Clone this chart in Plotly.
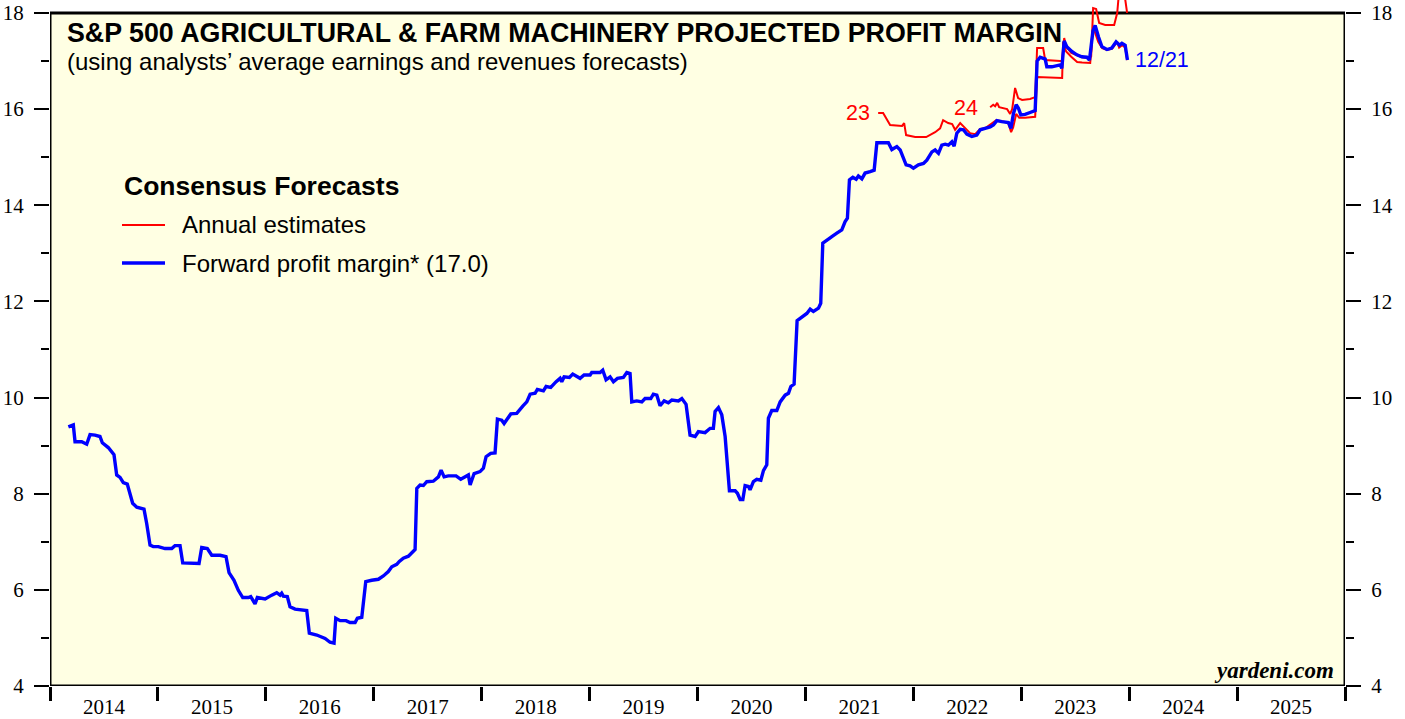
import plotly.graph_objects as go

# forward profit margin (blue), decimal years
fwd_x = [2014.170, 2014.216, 2014.232, 2014.294, 2014.340, 2014.371, 2014.417, 2014.463, 2014.485, 2014.540,
         2014.593, 2014.618, 2014.649, 2014.679, 2014.716, 2014.766, 2014.804, 2014.871, 2014.896, 2014.927,
         2014.957, 2015.004, 2015.066, 2015.128, 2015.158, 2015.205, 2015.230, 2015.297, 2015.381, 2015.406,
         2015.458, 2015.499, 2015.576, 2015.631, 2015.659, 2015.705, 2015.745, 2015.786, 2015.838, 2015.860,
         2015.900, 2015.921, 2015.993, 2016.055, 2016.101, 2016.132, 2016.147, 2016.162, 2016.199, 2016.224,
         2016.271, 2016.379, 2016.403, 2016.472, 2016.549, 2016.595, 2016.632, 2016.648, 2016.688, 2016.743,
         2016.780, 2016.827, 2016.848, 2016.889, 2016.926, 2016.981, 2017.043, 2017.089, 2017.135, 2017.167,
         2017.213, 2017.237, 2017.274, 2017.321, 2017.383, 2017.399, 2017.429, 2017.460, 2017.491, 2017.552,
         2017.599, 2017.624, 2017.652, 2017.691, 2017.763, 2017.806, 2017.877, 2017.893, 2017.930, 2017.985,
         2018.016, 2018.041, 2018.084, 2018.124, 2018.146, 2018.186, 2018.208, 2018.270, 2018.325, 2018.381,
         2018.418, 2018.449, 2018.495, 2018.516, 2018.572, 2018.597, 2018.640, 2018.690, 2018.727, 2018.742,
         2018.764, 2018.813, 2018.844, 2018.912, 2018.949, 2019.005, 2019.020, 2019.097, 2019.122, 2019.153,
         2019.190, 2019.221, 2019.258, 2019.313, 2019.345, 2019.375, 2019.391, 2019.437, 2019.484, 2019.514,
         2019.567, 2019.591, 2019.623, 2019.653, 2019.691, 2019.730, 2019.762, 2019.823, 2019.855, 2019.894,
         2019.931, 2019.978, 2020.008, 2020.070, 2020.117, 2020.147, 2020.163, 2020.194, 2020.225, 2020.256,
         2020.296, 2020.349, 2020.370, 2020.395, 2020.420, 2020.441, 2020.472, 2020.487, 2020.518, 2020.549,
         2020.587, 2020.611, 2020.642, 2020.657, 2020.688, 2020.735, 2020.766, 2020.812, 2020.843, 2020.865,
         2020.895, 2020.923, 2020.951, 2021.013, 2021.044, 2021.074, 2021.121, 2021.142, 2021.161, 2021.198,
         2021.245, 2021.291, 2021.337, 2021.368, 2021.389, 2021.408, 2021.439, 2021.470, 2021.491, 2021.523,
         2021.553, 2021.600, 2021.637, 2021.662, 2021.708, 2021.769, 2021.801, 2021.847, 2021.878, 2021.908,
         2021.933, 2021.970, 2022.001, 2022.047, 2022.094, 2022.125, 2022.172, 2022.202, 2022.233, 2022.264,
         2022.295, 2022.325, 2022.357, 2022.378, 2022.403, 2022.434, 2022.464, 2022.496, 2022.542, 2022.588,
         2022.619, 2022.665, 2022.712, 2022.742, 2022.774, 2022.820, 2022.881, 2022.904, 2022.928, 2022.953,
         2022.974, 2022.996, 2023.036, 2023.082, 2023.129, 2023.147, 2023.175, 2023.222, 2023.237, 2023.283,
         2023.330, 2023.361, 2023.376, 2023.398, 2023.422, 2023.469, 2023.515, 2023.561, 2023.608, 2023.632,
         2023.664, 2023.685, 2023.716, 2023.747, 2023.794, 2023.839, 2023.879, 2023.911, 2023.933, 2023.963,
         2023.984]
fwd_y = [9.39, 9.43, 9.08, 9.08, 9.03, 9.23, 9.22, 9.19, 9.06, 8.96,
         8.81, 8.39, 8.34, 8.23, 8.20, 7.80, 7.72, 7.68, 7.38, 6.93,
         6.90, 6.90, 6.86, 6.86, 6.92, 6.92, 6.56, 6.55, 6.55, 6.88,
         6.86, 6.72, 6.72, 6.69, 6.36, 6.20, 5.99, 5.84, 5.84, 5.86,
         5.71, 5.84, 5.81, 5.89, 5.94, 5.89, 5.93, 5.87, 5.86, 5.65,
         5.60, 5.57, 5.10, 5.06, 4.99, 4.91, 4.89, 5.41, 5.36, 5.36,
         5.32, 5.32, 5.41, 5.43, 6.17, 6.20, 6.22, 6.29, 6.38, 6.48,
         6.53, 6.59, 6.66, 6.70, 6.84, 8.11, 8.18, 8.17, 8.25, 8.26,
         8.35, 8.49, 8.35, 8.37, 8.37, 8.30, 8.39, 8.18, 8.42, 8.46,
         8.53, 8.77, 8.84, 8.85, 9.55, 9.53, 9.46, 9.66, 9.67, 9.82,
         9.91, 10.07, 10.09, 10.17, 10.14, 10.23, 10.21, 10.33, 10.40, 10.33,
         10.43, 10.42, 10.49, 10.40, 10.47, 10.47, 10.52, 10.52, 10.57, 10.37,
         10.43, 10.33, 10.40, 10.42, 10.52, 10.50, 9.91, 9.93, 9.91, 9.98,
         9.98, 10.07, 10.05, 9.83, 9.93, 9.89, 9.95, 9.93, 9.98, 9.86,
         9.22, 9.19, 9.29, 9.27, 9.36, 9.36, 9.71, 9.79, 9.64, 9.19,
         8.06, 8.06, 8.01, 7.88, 7.88, 8.17, 8.15, 8.08, 8.25, 8.30,
         8.28, 8.48, 8.60, 9.57, 9.73, 9.73, 9.91, 10.05, 10.09, 10.23,
         10.28, 11.60, 11.65, 11.75, 11.84, 11.79, 11.86, 11.96, 13.21, 13.28,
         13.35, 13.42, 13.49, 13.66, 13.73, 14.53, 14.58, 14.54, 14.61, 14.55,
         14.67, 14.70, 14.73, 15.30, 15.30, 15.30, 15.16, 15.22, 15.15, 14.98,
         14.84, 14.82, 14.77, 14.84, 14.87, 14.94, 15.11, 15.15, 15.08, 15.25,
         15.27, 15.25, 15.32, 15.23, 15.50, 15.58, 15.57, 15.48, 15.43, 15.46,
         15.57, 15.60, 15.63, 15.67, 15.76, 15.74, 15.72, 15.60, 15.91, 16.09,
         16.02, 15.88, 15.89, 15.93, 15.97, 17.00, 17.08, 17.04, 16.88, 16.88,
         16.90, 16.92, 16.85, 17.42, 17.30, 17.20, 17.13, 17.09, 17.08, 17.02,
         17.62, 17.74, 17.50, 17.30, 17.24, 17.27, 17.40, 17.33, 17.37, 17.33,
         17.02]

# annual estimates (red)
est23_x = [2021.674, 2021.720, 2021.785, 2021.896, 2021.915, 2021.933, 2022.017, 2022.119, 2022.202, 2022.248,
           2022.276, 2022.323, 2022.360, 2022.387, 2022.434, 2022.480, 2022.526, 2022.573, 2022.619, 2022.665,
           2022.712, 2022.767, 2022.823, 2022.879, 2022.906, 2022.925, 2022.953, 2022.981, 2023.036, 2023.129,
           2023.147, 2023.222, 2023.379, 2023.388, 2023.416, 2023.463, 2023.518, 2023.564, 2023.611, 2023.639,
           2023.666, 2023.685, 2023.713, 2023.750, 2023.796, 2023.842, 2023.889, 2023.907, 2023.935, 2023.963,
           2023.981]
est23_y = [15.92, 15.92, 15.67, 15.65, 15.71, 15.46, 15.42, 15.42, 15.52, 15.60,
           15.77, 15.71, 15.69, 15.57, 15.71, 15.60, 15.50, 15.48, 15.59, 15.60,
           15.67, 15.77, 15.75, 15.71, 15.52, 15.62, 15.90, 15.82, 15.82, 15.84,
           16.67, 16.66, 16.65, 17.40, 17.20, 17.09, 16.98, 16.97, 16.96, 16.96,
           17.71, 17.60, 17.40, 17.27, 17.23, 17.26, 17.40, 17.28, 17.33, 17.28,
           17.02]
est24_x = [2022.712, 2022.740, 2022.758, 2022.777, 2022.795, 2022.832, 2022.869, 2022.897, 2022.916, 2022.943,
           2022.971, 2023.008, 2023.082, 2023.129, 2023.147, 2023.203, 2023.222, 2023.361, 2023.379, 2023.398,
           2023.416, 2023.463, 2023.518, 2023.564, 2023.629, 2023.648, 2023.666, 2023.694, 2023.722, 2023.778,
           2023.861, 2023.889, 2023.907, 2023.953, 2023.981]
est24_y = [16.04, 16.09, 16.06, 16.13, 16.04, 16.02, 16.00, 15.90, 16.00, 16.44,
           16.23, 16.19, 16.21, 16.25, 17.27, 17.27, 17.02, 17.00, 17.00, 17.48,
           17.30, 17.17, 17.12, 17.08, 17.06, 17.10, 18.10, 18.08, 17.79, 17.75,
           17.75, 18.00, 18.45, 18.45, 18.00]

years = list(range(2014, 2026))
y_major = [4, 6, 8, 10, 12, 14, 16, 18]
y_minor = [5, 7, 9, 11, 13, 15, 17]

BG = "#FFFFE3"
RED = "#FF0000"
BLUE = "#0000FF"


# pixel position in the 1405x719 page -> paper coords (plot area 50..1345 x 0..686)
def px(x):
    return (x - 50) / 1295


def py(y):
    return 1 - y / 686


fig = go.Figure()

fig.add_trace(go.Scatter(x=est23_x, y=est23_y, mode="lines", line=dict(color=RED, width=2)))
fig.add_trace(go.Scatter(x=est24_x, y=est24_y, mode="lines", line=dict(color=RED, width=2)))
fig.add_trace(go.Scatter(x=fwd_x, y=fwd_y, mode="lines", line=dict(color=BLUE, width=3.4)))

# same data on right axis (invisible) so the right ticks show up
fig.add_trace(go.Scatter(x=fwd_x, y=fwd_y, yaxis="y2", mode="lines", line=dict(width=0),
                         hoverinfo="skip", opacity=0))

# yellow panel + frame
fig.add_shape(type="rect", xref="x", yref="y", x0=2014, x1=2026, y0=4, y1=18,
              fillcolor=BG, line=dict(width=0), layer="below")
fig.add_shape(type="rect", xref="x", yref="y", x0=2014, x1=2026, y0=4, y1=18,
              fillcolor="rgba(0,0,0,0)", line=dict(color="black", width=3), layer="below")

tick_font = dict(family="Liberation Serif", size=21, color="black")
yax = dict(range=[4, 18.27], tickvals=y_major, ticks="outside", ticklen=15, tickwidth=1.5,
           tickcolor="black", showgrid=False, zeroline=False, showline=False, tickfont=tick_font,
           automargin=False, ticklabelstandoff=6,
           minor=dict(tickvals=y_minor, ticks="outside", ticklen=8, tickwidth=1.5, tickcolor="black",
                      showgrid=False))

fig.update_layout(
    width=1405,
    height=719,
    margin=dict(l=50, r=60, t=0, b=33),
    paper_bgcolor="white",
    plot_bgcolor="white",
    showlegend=False,
    xaxis=dict(range=[2014, 2026], tickvals=[y + 0.5 for y in years], ticktext=[str(y) for y in years],
               ticks="", showgrid=False, zeroline=False, showline=False, tickfont=tick_font,
               automargin=False, ticklabelstandoff=6,
               minor=dict(tickvals=years + [2026], ticks="outside", ticklen=14, tickwidth=3,
                          tickcolor="black", showgrid=False)),
    yaxis=yax,
    yaxis2=dict(yax, overlaying="y", side="right", matches="y"),
)

sans = "Liberation Sans"
notes = [
    (65, 33, "<b>S&P 500 AGRICULTURAL & FARM MACHINERY PROJECTED PROFIT MARGIN</b>", 26.8, "black", "left"),
    (65, 62, "(using analysts’ average earnings and revenues forecasts)", 24, "black", "left"),
    (122, 186, "<b>Consensus Forecasts</b>", 26.5, "black", "left"),
    (180, 225, "Annual estimates", 24, "black", "left"),
    (180, 263, "Forward profit margin* (17.0)", 24, "black", "left"),
    (1133, 60, "12/21", 21.5, BLUE, "left"),
    (872, 113, "23", 21.5, RED, "right"),
    (980, 108, "24", 21.5, RED, "right"),
]
for x, y, t, s, c, anchor in notes:
    fig.add_annotation(x=px(x), y=py(y), xref="paper", yref="paper", text=t, showarrow=False,
                       xanchor=anchor, yanchor="middle", font=dict(family=sans, size=s, color=c))

fig.add_annotation(x=px(1336), y=py(670), xref="paper", yref="paper", text="<b><i>yardeni.com</i></b>",
                   showarrow=False, xanchor="right", yanchor="middle",
                   font=dict(family="Liberation Serif", size=23, color="black"))

# legend line samples
fig.add_shape(type="line", xref="paper", yref="paper", x0=px(122), x1=px(165), y0=py(225), y1=py(225),
              line=dict(color=RED, width=2))
fig.add_shape(type="line", xref="paper", yref="paper", x0=px(122), x1=px(165), y0=py(263), y1=py(263),
              line=dict(color=BLUE, width=3.4))

# drop the default page margin so the figure sits at the window corner
fig.write_html("out.html", config={"displayModeBar": False},
               post_script="document.body.style.margin='0';")
